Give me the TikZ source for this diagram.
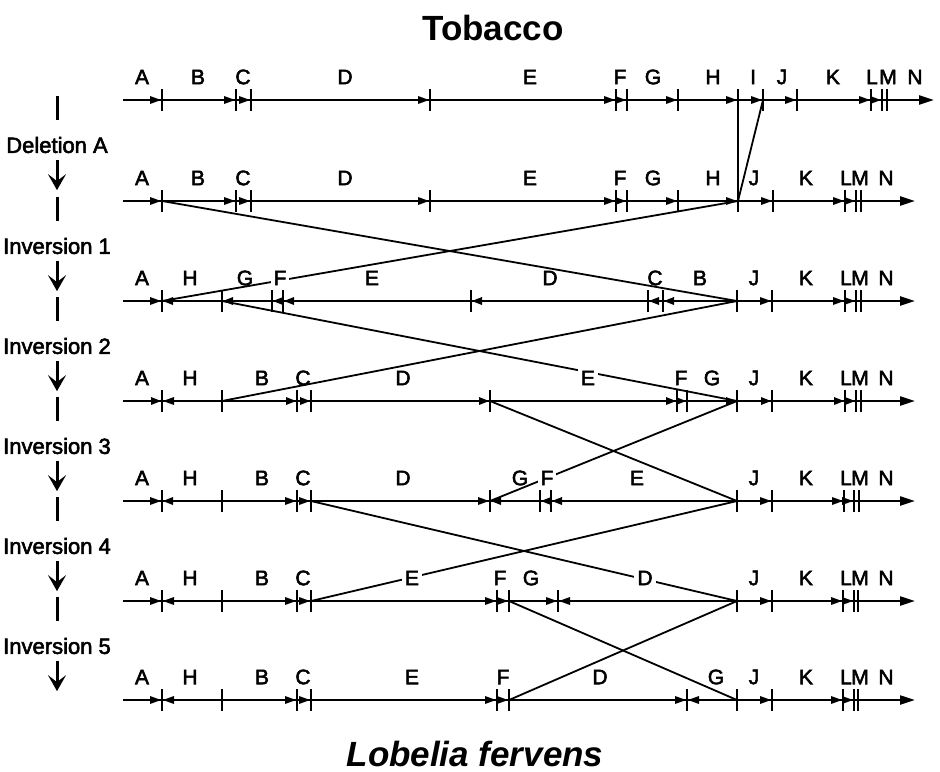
\documentclass[tikz,border=0pt]{standalone}
\usepackage{fontspec}
\setmainfont{Liberation Sans}
\newfontfamily\lblfont{Liberation Sans}[FakeBold=2.5]
\usetikzlibrary{arrows.meta}

\tikzset{
  gene/.style={line width=1.1pt, -{Triangle[length=7.5pt,width=4.5pt]}},
  tk/.style={line width=1.3pt},
  conn/.style={line width=0.9pt},
  lbl/.style={inner sep=1.5pt, font=\lblfont\fontsize{10.5}{12}\selectfont},
  cut/.style={fill=white},
  side/.style={font=\lblfont\fontsize{11}{13}\selectfont},
  flow/.style={line width=1.5pt},
}

\begin{document}
\begin{tikzpicture}[x=0.5pt, y=-0.5pt]
  \useasboundingbox (0,0) rectangle (940,771);

  \node[font=\bfseries\fontsize{17.5}{20}\selectfont] (top) at (493,28) {Tobacco};
  \node[font=\bfseries\itshape\fontsize{17.5}{20}\selectfont] (bottom) at (475,754) {Lobelia fervens};

  % 0段目
  \draw[gene] (123,100) -- (934,100);
  \foreach \x [count=\i] in {162,236,251,430,616,627,678,738,763,797,871,882,887} {
    \coordinate (r0-\i) at (\x,100);
    \draw[tk] (\x,89) -- (\x,111);
  }
  \foreach \x in {162,236,251,430,616,627,678,738,763,797,871,882}
    \fill (\x-1,100) -- ++(-11,-4) -- ++(0,8) -- cycle;

  % 1段目
  \draw[gene] (123,201) -- (915,201);
  \foreach \x [count=\i] in {162,236,251,430,616,627,678,738,773,845,856,861} {
    \coordinate (r1-\i) at (\x,201);
    \draw[tk] (\x,190) -- (\x,212);
  }
  \foreach \x in {162,236,251,430,616,627,678,738,773,845,856}
    \fill (\x-1,201) -- ++(-11,-4) -- ++(0,8) -- cycle;

  % 2段目
  \draw[gene] (123,301) -- (915,301);
  \foreach \x [count=\i] in {162,222,272,283,471,648,663,737,772,845,856,861} {
    \coordinate (r2-\i) at (\x,301);
    \draw[tk] (\x,290) -- (\x,312);
  }
  \foreach \x in {162,772,845,856}
    \fill (\x-1,301) -- ++(-11,-4) -- ++(0,8) -- cycle;
  \foreach \x in {162,222,272,283,471,648,663}
    \fill (\x+1,301) -- ++(10,-4) -- ++(0,8) -- cycle;

  % 3段目
  \draw[gene] (123,401) -- (915,401);
  \foreach \x [count=\i] in {162,222,297,311,490,677,687,737,772,845,856,861} {
    \coordinate (r3-\i) at (\x,401);
    \draw[tk] (\x,390) -- (\x,412);
  }
  \foreach \x in {162,297,311,490,677,687,737,772,845,856}
    \fill (\x-1,401) -- ++(-10,-4) -- ++(0,8) -- cycle;
  \foreach \x in {162}
    \fill (\x+1,401) -- ++(11,-4) -- ++(0,8) -- cycle;

  % 4段目
  \draw[gene] (123,501) -- (915,501);
  \foreach \x [count=\i] in {162,222,297,311,490,540,551,737,772,844,854,859} {
    \coordinate (r4-\i) at (\x,501);
    \draw[tk] (\x,490) -- (\x,512);
  }
  \foreach \x in {162,297,311,490,772,844,854}
    \fill (\x-1,501) -- ++(-11,-4) -- ++(0,8) -- cycle;
  \foreach \x in {162,490,540,551}
    \fill (\x+1,501) -- ++(10,-4) -- ++(0,8) -- cycle;

  % 5段目
  \draw[gene] (123,601) -- (915,601);
  \foreach \x [count=\i] in {162,222,297,311,497,509,558,737,772,843,854,858} {
    \coordinate (r5-\i) at (\x,601);
    \draw[tk] (\x,590) -- (\x,612);
  }
  \foreach \x in {162,297,311,497,509,558,772,843,854}
    \fill (\x-1,601) -- ++(-11,-4) -- ++(0,8) -- cycle;
  \foreach \x in {162,558}
    \fill (\x+1,601) -- ++(11,-4) -- ++(0,8) -- cycle;

  % 6段目
  \draw[gene] (123,700) -- (915,700);
  \foreach \x [count=\i] in {162,222,297,311,497,509,687,737,772,843,854,858} {
    \coordinate (r6-\i) at (\x,700);
    \draw[tk] (\x,689) -- (\x,711);
  }
  \foreach \x in {162,297,311,497,509,687,772,843,854}
    \fill (\x-1,700) -- ++(-11,-4) -- ++(0,8) -- cycle;
  \foreach \x in {162,687}
    \fill (\x+1,700) -- ++(11,-4) -- ++(0,8) -- cycle;

  % 段の間をつなぐ線
  \draw[conn] (r0-8) -- (r1-8);
  \draw[conn] (r0-9) -- (r1-8);
  \draw[conn] (r1-1) -- (r2-8);
  \draw[conn] (r1-8) -- (r2-1);
  \draw[conn] (r2-2) -- (r3-8);
  \draw[conn] (r2-8) -- (r3-2);
  \draw[conn] (r3-5) -- (r4-8);
  \draw[conn] (r3-8) -- (r4-5);
  \draw[conn] (r4-4) -- (r5-8);
  \draw[conn] (r4-8) -- (r5-4);
  \draw[conn] (r5-6) -- (r6-8);
  \draw[conn] (r5-8) -- (r6-6);

  % 文字を入れる
  \foreach \t/\x in {A/142,B/198,C/243,D/345,E/530,F/620,G/653,H/713,I/753,J/782,K/833,L/872,M/888,N/915}
    \node[lbl] (\t0) at (\x,77) {\t};
  \foreach \t/\x in {A/142,B/198,C/243,D/345,E/530,F/620,G/653,H/713,J/754,K/806,L/846,M/860,N/886}
    \node[lbl] (\t1) at (\x,178) {\t};
  \foreach \t/\x in {A/142,H/190,G/245,E/372,D/550,C/655,B/700,J/754,K/806,L/846,M/860,N/886}
    \node[lbl] (\t2) at (\x,278) {\t};
  \node[lbl,cut] (F2) at (280,278) {F};
  \foreach \t/\x in {A/142,H/190,B/262,C/303,D/403,F/681,G/712,J/754,K/806,L/846,M/860,N/886}
    \node[lbl] (\t3) at (\x,378) {\t};
  \node[lbl,cut] (E3) at (588,378) {E};
  \foreach \t/\x in {A/142,H/190,B/262,C/303,D/403,G/520,E/637,J/754,K/806,L/846,M/860,N/886}
    \node[lbl] (\t4) at (\x,478) {\t};
  \node[lbl,cut] (F4) at (547,478) {F};
  \foreach \t/\x in {A/142,H/190,B/262,C/303,F/500,G/531,J/754,K/806,L/846,M/860,N/886}
    \node[lbl] (\t5) at (\x,578) {\t};
  \node[lbl,cut] (E5) at (412,578) {E};
  \node[lbl,cut] (D5) at (645,578) {D};
  \foreach \t/\x in {A/142,H/190,B/262,C/303,E/412,F/503,D/600,G/716,J/754,K/806,L/846,M/860,N/886}
    \node[lbl] (\t6) at (\x,677) {\t};

  % 左の矢印
  \foreach \t/\y [count=\i] in {Deletion A/100,Inversion 1/201,Inversion 2/301,Inversion 3/401,Inversion 4/501,Inversion 5/601} {
    \node[side] (s\i) at (57,\y+45) {\t};
    \draw[flow] (57,\y-4) -- ([yshift=5pt]s\i.north);
    \draw[flow,-{Stealth[length=8pt,width=9pt,inset=3.5pt]}] (s\i.south) -- ++(0,30);
  }
\end{tikzpicture}
\end{document}
